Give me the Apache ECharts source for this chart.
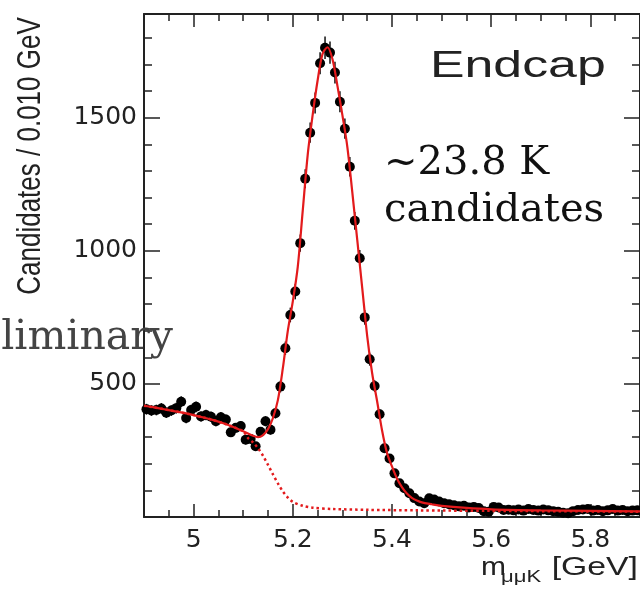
<!DOCTYPE html>
<html><head><meta charset="utf-8">
<script src="https://cdn.jsdelivr.net/npm/echarts@6/dist/echarts.min.js"></script>
<style>html,body{margin:0;padding:0;background:#fff}#c{width:640px;height:589px}</style>
</head><body><div id="c"></div>
<script>
// bin centres (GeV), 0.010 GeV bins
const binCenters = [
4.905,4.915,4.925,4.935,4.945,4.955,4.965,4.975,4.985,4.995,
5.005,5.015,5.025,5.035,5.045,5.055,5.065,5.075,5.085,5.095,
5.105,5.115,5.125,5.135,5.145,5.155,5.165,5.175,5.185,5.195,
5.205,5.215,5.225,5.235,5.245,5.255,5.265,5.275,5.285,5.295,
5.305,5.315,5.325,5.335,5.345,5.355,5.365,5.375,5.385,5.395,
5.405,5.415,5.425,5.435,5.445,5.455,5.465,5.475,5.485,5.495,
5.505,5.515,5.525,5.535,5.545,5.555,5.565,5.575,5.585,5.595,
5.605,5.615,5.625,5.635,5.645,5.655,5.665,5.675,5.685,5.695,
5.705,5.715,5.725,5.735,5.745,5.755,5.765,5.775,5.785,5.795,
5.805,5.815,5.825,5.835,5.845,5.855,5.865,5.875,5.885,5.895];
// candidates per bin
const counts = [
405,400,402,408,392,400,409,433,372,402,
414,378,383,377,360,375,366,318,335,342,
290,293,266,320,360,328,390,490,634,759,
847,1029,1271,1444,1556,1705,1763,1745,1670,1560,
1459,1316,1113,972,750,593,492,386,258,220,
164,127,108,89,71,58,52,70,66,58,
52,48,44,40,42,36,38,34,22,20,
38,36,26,27,25,28,24,30,26,24,
28,25,22,20,16,14,22,26,28,30,
24,26,22,25,30,24,26,22,24,25];
// total fit curve
const fitMass = [4.90,4.92,4.94,4.96,4.98,5.00,5.02,5.04,5.06,5.08,5.10,5.12,5.13,5.14,5.15,5.16,5.17,5.18,5.19,5.20,5.21,5.22,5.23,5.24,5.25,5.26,5.27,5.28,5.29,5.30,5.31,5.32,5.33,5.34,5.35,5.36,5.37,5.38,5.39,5.40,5.41,5.42,5.43,5.44,5.45,5.46,5.48,5.50,5.55,5.60,5.70,5.80,5.90];
const fitTotal = [418,412,405,398,391,383,374,364,352,338,322,305,300,308,330,372,440,560,700,810,940,1150,1360,1510,1640,1740,1765,1720,1620,1510,1390,1220,1040,860,680,540,435,325,240,190,145,112,88,72,62,55,48,42,34,29,25,23,21];
// background component (dotted)
const bgMass = [4.90,4.92,4.94,4.96,4.98,5.00,5.02,5.04,5.06,5.08,5.10,5.11,5.12,5.13,5.14,5.15,5.16,5.17,5.18,5.19,5.20,5.22,5.24,5.28,5.35,5.45,5.60,5.90];
const bgValues = [418,412,405,398,391,383,374,364,352,338,322,296,280,258,230,196,160,126,96,73,57,42,35,30,27,25,23,20];
// axis ticks
const xMajor = [5.0,5.2,5.4,5.6,5.8];
const xMinor = [4.95,5.05,5.1,5.15,5.25,5.3,5.35,5.45,5.5,5.55,5.65,5.7,5.75,5.85];

const pts = binCenters.map((m,i)=>[m,counts[i]]);
const fitPts = fitMass.map((m,i)=>[m,fitTotal[i]]);
const bgPts = bgMass.map((m,i)=>[m,bgValues[i]]);

const AX = '#222';
const xBase = {type:'value', min:4.9, max:5.9, splitLine:{show:false}};
const chart = echarts.init(document.getElementById('c'));
chart.setOption({
  animation:false,
  backgroundColor:'#fff',
  grid:{left:144, right:0, top:14, bottom:72},
  xAxis:[
    Object.assign({}, xBase, {position:'bottom',
      axisLine:{show:true, lineStyle:{color:AX, width:2}},
      axisTick:{show:true, inside:true, length:13, customValues:xMajor, lineStyle:{color:AX, width:1.5}},
      axisLabel:{show:true, customValues:xMajor, formatter:v=>String(v), fontFamily:'DejaVu Sans', fontSize:25, color:AX, margin:11}}),
    Object.assign({}, xBase, {position:'bottom',
      axisLine:{show:false},
      axisTick:{show:true, inside:true, length:7, customValues:xMinor, lineStyle:{color:AX, width:1.5}},
      axisLabel:{show:false}}),
    Object.assign({}, xBase, {position:'top',
      axisLine:{show:true, lineStyle:{color:AX, width:2}},
      axisTick:{show:true, inside:true, length:13, customValues:xMajor, lineStyle:{color:AX, width:1.5}},
      axisLabel:{show:false}}),
    Object.assign({}, xBase, {position:'top',
      axisLine:{show:false},
      axisTick:{show:true, inside:true, length:7, customValues:xMinor, lineStyle:{color:AX, width:1.5}},
      axisLabel:{show:false}})
  ],
  yAxis:[
    {type:'value', min:0, max:1890, interval:500, position:'left',
      axisLine:{show:true, lineStyle:{color:AX, width:2}},
      axisTick:{show:true, inside:true, length:16, lineStyle:{color:AX, width:1.5}},
      minorTick:{show:true, splitNumber:5, length:8, lineStyle:{color:AX, width:1.5}},
      axisLabel:{show:true, showMinLabel:false, showMaxLabel:false, formatter:v=>String(v), fontFamily:'DejaVu Sans', fontSize:25, color:AX, margin:7},
      splitLine:{show:false}, minorSplitLine:{show:false}},
    {type:'value', min:0, max:1890, interval:500, position:'right',
      axisLine:{show:true, lineStyle:{color:AX, width:2}},
      axisTick:{show:true, inside:true, length:16, lineStyle:{color:AX, width:1.5}},
      minorTick:{show:true, splitNumber:5, length:8, lineStyle:{color:AX, width:1.5}},
      axisLabel:{show:false}, splitLine:{show:false}, minorSplitLine:{show:false}}
  ],
  series:[
    {type:'custom', xAxisIndex:0, yAxisIndex:0, z:2, data:pts,
      renderItem:(params, api)=>{
        const x=api.value(0), y=api.value(1), e=Math.sqrt(y);
        const p1=api.coord([x,y-e]), p2=api.coord([x,y+e]);
        return {type:'line', shape:{x1:p1[0],y1:p1[1],x2:p2[0],y2:p2[1]}, style:{stroke:'#111', lineWidth:1.5}};
      }},
    {type:'scatter', xAxisIndex:0, yAxisIndex:0, z:3, data:pts, symbol:'circle', symbolSize:10,
      itemStyle:{color:'#000', opacity:1}},
    {type:'line', xAxisIndex:0, yAxisIndex:0, z:4, data:bgPts, smooth:0.3, showSymbol:false,
      lineStyle:{color:'#e31a1c', width:2.5, type:[2.5,3]}},
    {type:'line', xAxisIndex:0, yAxisIndex:0, z:5, data:fitPts, smooth:0.3, showSymbol:false,
      lineStyle:{color:'#e31a1c', width:2.2}}
  ],
  graphic:[
    {type:'text', x:31, y:156, rotation:Math.PI/2, scaleY:1.3, z:10,
      style:{text:'Candidates / 0.010 GeV', font:'26px "Liberation Sans"', fill:AX, textAlign:'center', textVerticalAlign:'middle'}},
    {type:'text', x:430, y:67, scaleX:1.4, z:10,
      style:{text:'Endcap', font:'37px "Liberation Sans"', fill:AX, textAlign:'left', textVerticalAlign:'middle'}},
    {type:'text', x:384, y:164, z:10,
      style:{text:'~23.8 K', font:'40px "DejaVu Serif"', fill:'#111', textAlign:'left', textVerticalAlign:'middle'}},
    {type:'text', x:384, y:211, z:10,
      style:{text:'candidates', font:'40px "DejaVu Serif"', fill:'#111', textAlign:'left', textVerticalAlign:'middle'}},
    {type:'text', x:173, y:338, z:10,
      style:{text:'Preliminary', font:'41px "DejaVu Serif"', fill:'#444', textAlign:'right', textVerticalAlign:'middle'}},
    {type:'text', x:481, y:568, scaleX:1.2, z:10,
      style:{text:'m', font:'25px "Liberation Sans"', fill:AX, textAlign:'left', textVerticalAlign:'middle'}},
    {type:'text', x:501, y:577, scaleX:1.3, z:10,
      style:{text:'μμK', font:'17px "Liberation Sans"', fill:AX, textAlign:'left', textVerticalAlign:'middle'}},
    {type:'text', x:638, y:568, scaleX:1.35, z:10,
      style:{text:'[GeV]', font:'25px "Liberation Sans"', fill:AX, textAlign:'right', textVerticalAlign:'middle'}}
  ]
});
</script></body></html>
